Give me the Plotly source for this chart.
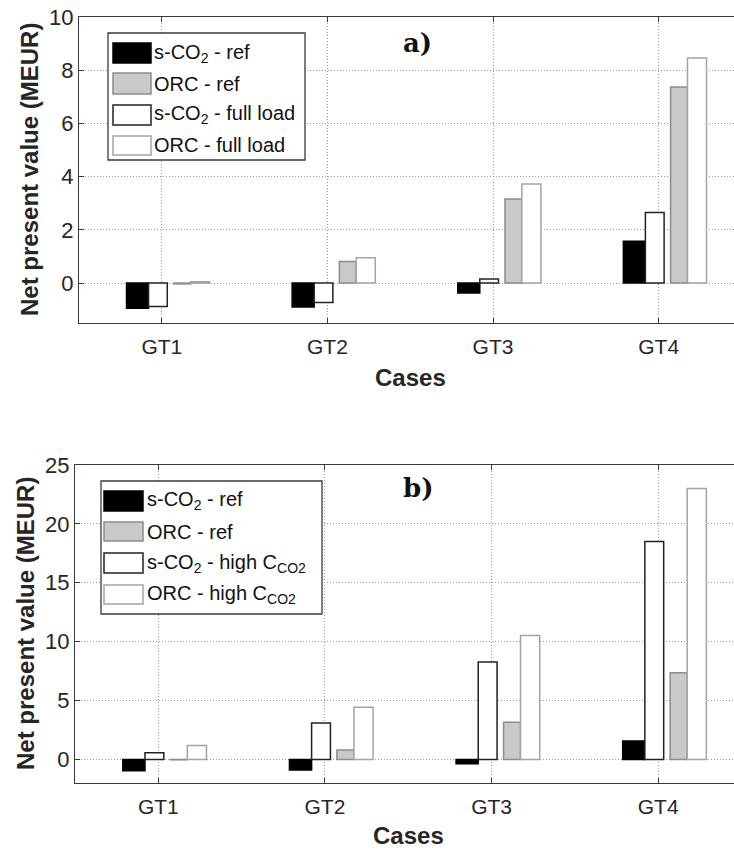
import plotly.graph_objects as go

# ---- data (MEUR) -------------------------------------------------------
cases = ["GT1", "GT2", "GT3", "GT4"]
case_pos = [1, 2, 3, 4]

sco2_ref = [-0.95, -0.90, -0.37, 1.57]
orc_ref = [-0.03, 0.81, 3.16, 7.37]
sco2_full = [-0.88, -0.73, 0.15, 2.65]
orc_full = [0.05, 0.95, 3.72, 8.46]
sco2_high = [0.57, 3.10, 8.28, 18.50]
orc_high = [1.19, 4.43, 10.53, 23.00]

ticks_a = [0, 2, 4, 6, 8, 10]
ticks_b = [0, 5, 10, 15, 20, 25]

# ---- figure geometry ---------------------------------------------------
W, H = 734, 850
FONT = "Liberation Sans"
AXIS_COLOR = "#3a3a3a"
GRID_COLOR = "#9a9a9a"
TEXT_COLOR = "#262626"


def px(x):
    return x / W


def py(y):
    return 1 - y / H


# bar styles: (fill, edge colour, offset, width) in category units
styles = {
    "sco2_ref": ("#000000", "#000000", -0.213, 0.133),
    "sco2_alt": ("#ffffff", "#222222", -0.080, 0.113),
    "orc_ref": ("#c9c9c9", "#8c8c8c", 0.072, 0.102),
    "orc_alt": ("#ffffff", "#a4a4a4", 0.174, 0.115),
}

fig = go.Figure()


def add_bars(values, style, xa, ya):
    fill, edge, off, wid = styles[style]
    fig.add_trace(go.Bar(
        x=case_pos, y=values, offset=off, width=wid,
        marker=dict(color=fill, line=dict(color=edge, width=1.5)),
        xaxis=xa, yaxis=ya, showlegend=False, hoverinfo="skip",
    ))


# panel a
add_bars(sco2_ref, "sco2_ref", "x", "y")
add_bars(sco2_full, "sco2_alt", "x", "y")
add_bars(orc_ref, "orc_ref", "x", "y")
add_bars(orc_full, "orc_alt", "x", "y")
# panel b
add_bars(sco2_ref, "sco2_ref", "x2", "y2")
add_bars(sco2_high, "sco2_alt", "x2", "y2")
add_bars(orc_ref, "orc_ref", "x2", "y2")
add_bars(orc_high, "orc_alt", "x2", "y2")

xcommon = dict(
    range=[0.5, 4.455], tickmode="array", tickvals=case_pos, ticktext=cases,
    showline=True, linecolor=AXIS_COLOR, linewidth=1.3, mirror="ticks",
    ticks="inside", ticklen=5, tickcolor=AXIS_COLOR, tickwidth=1.2,
    showgrid=True, gridcolor=GRID_COLOR, griddash="1px,2px", gridwidth=1,
    zeroline=False, tickfont=dict(family=FONT, size=21, color=TEXT_COLOR),
    ticklabelstandoff=5, automargin=False, fixedrange=True,
)
ycommon = dict(
    showline=True, linecolor=AXIS_COLOR, linewidth=1.3, mirror=False,
    ticks="inside", ticklen=5, tickcolor=AXIS_COLOR, tickwidth=1.2,
    showgrid=True, gridcolor=GRID_COLOR, griddash="1px,2px", gridwidth=1,
    zeroline=False, tickfont=dict(family=FONT, size=22, color=TEXT_COLOR),
    automargin=False, fixedrange=True,
)

fig.update_layout(
    width=W, height=H,
    margin=dict(l=0, r=0, t=0, b=0),
    paper_bgcolor="white", plot_bgcolor="white",
    barmode="overlay",
    font=dict(family=FONT, size=20, color=TEXT_COLOR),
    xaxis=dict(domain=[px(79), 1], anchor="y", **xcommon),
    yaxis=dict(domain=[py(323), py(17)], anchor="x", range=[-1.5, 10],
               tickvals=ticks_a, **ycommon),
    xaxis2=dict(domain=[px(75), 1], anchor="y2", **xcommon),
    yaxis2=dict(domain=[py(783), py(465)], anchor="x2", range=[-2, 25],
                tickvals=ticks_b, **ycommon),
)

annotations = []
shapes = []

# axis titles
for cx, cy in [(30, 170), (25, 624)]:
    annotations.append(dict(
        text="<b>Net present value (MEUR)</b>", x=px(cx), y=py(cy),
        xref="paper", yref="paper", textangle=-90, showarrow=False,
        xanchor="center", yanchor="middle",
        font=dict(family=FONT, size=24, color=TEXT_COLOR)))
for cx, cy in [(410, 377), (408, 835)]:
    annotations.append(dict(
        text="<b>Cases</b>", x=px(cx), y=py(cy), xref="paper", yref="paper",
        showarrow=False, xanchor="center", yanchor="middle",
        font=dict(family=FONT, size=24, color=TEXT_COLOR)))

# panel tags
for tag, cx, cy in [("a)", 417, 43), ("b)", 418, 488)]:
    annotations.append(dict(
        text=f"<b>{tag}</b>", x=px(cx), y=py(cy), xref="paper", yref="paper",
        showarrow=False, xanchor="center", yanchor="middle",
        font=dict(family="DejaVu Serif", size=26, color="#111111")))


# legends drawn as boxed swatches with labels
def add_legend(box, sw_x, text_x, rows, labels):
    x0, y0, x1, y1 = box
    shapes.append(dict(type="rect", xref="paper", yref="paper",
                       x0=px(x0), x1=px(x1), y0=py(y1), y1=py(y0),
                       line=dict(color="#3a3a3a", width=1.3),
                       fillcolor="white", layer="above"))
    keys = ["sco2_ref", "orc_ref", "sco2_alt", "orc_alt"]
    for key, (r0, r1), lab in zip(keys, rows, labels):
        fill, edge, _, _ = styles[key]
        shapes.append(dict(type="rect", xref="paper", yref="paper",
                           x0=px(sw_x[0]), x1=px(sw_x[1]),
                           y0=py(r1), y1=py(r0),
                           line=dict(color=edge, width=1.5),
                           fillcolor=fill, layer="above"))
        annotations.append(dict(
            text=lab, x=px(text_x), y=py((r0 + r1) / 2),
            xref="paper", yref="paper", showarrow=False,
            xanchor="left", yanchor="middle",
            font=dict(family=FONT, size=20, color="#111111")))


add_legend(
    (108, 33, 305, 160), (113, 151), 152,
    [(43, 63), (73, 94), (105, 125), (136, 155)],
    ["s-CO<sub>2</sub> - ref", "ORC - ref",
     "s-CO<sub>2</sub> - full load", "ORC - full load"],
)
add_legend(
    (101, 481, 322, 614), (104, 143), 145,
    [(491, 511), (522, 541), (553, 573), (585, 604)],
    ["s-CO<sub>2</sub> - ref", "ORC - ref",
     "s-CO<sub>2</sub> - high C<sub>CO2</sub>",
     "ORC - high C<sub>CO2</sub>"],
)

fig.update_layout(annotations=annotations, shapes=shapes)

fig.write_html("out.html", config={"displayModeBar": False})
